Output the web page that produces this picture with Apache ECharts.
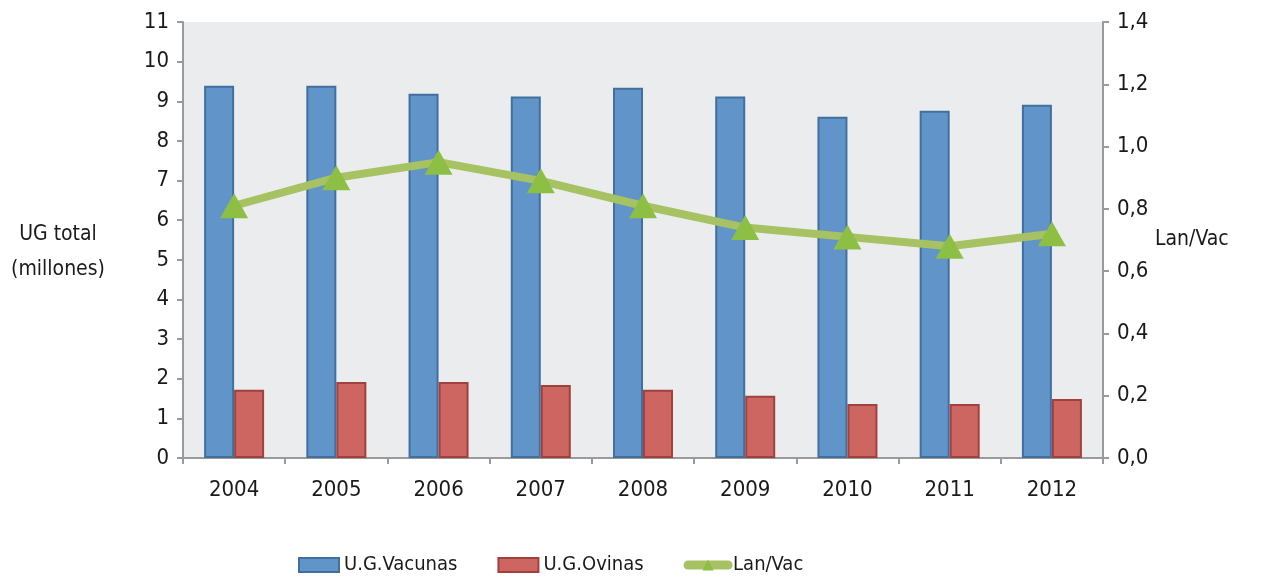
<!DOCTYPE html>
<html>
<head>
<meta charset="utf-8">
<script src="https://cdn.jsdelivr.net/npm/echarts@6/dist/echarts.min.js"></script>
<style>
  html, body { margin: 0; padding: 0; background: #fff; }
  #chart { width: 1270px; height: 577px; }
</style>
</head>
<body>
<div id="chart"></div>
<script>
// datos
var years = ['2004', '2005', '2006', '2007', '2008', '2009', '2010', '2011', '2012'];
var vacunas = [9.39, 9.39, 9.19, 9.12, 9.34, 9.12, 8.61, 8.76, 8.91];
var ovinas = [1.72, 1.92, 1.92, 1.84, 1.72, 1.57, 1.36, 1.36, 1.49];
var lanVac = [0.81, 0.90, 0.95, 0.89, 0.81, 0.74, 0.71, 0.68, 0.72];

var font = '"DejaVu Sans Condensed", "Liberation Sans Narrow", sans-serif';
var axisGray = '#9a9a9a';

var chart = echarts.init(document.getElementById('chart'));
chart.setOption({
  animation: false,
  textStyle: { fontFamily: font, color: '#1a1a1a' },
  grid: {
    left: 183, right: 167, top: 22, bottom: 119,
    show: true, backgroundColor: '#ebecee', borderWidth: 0
  },
  legend: {
    top: 550,
    left: 293,
    itemWidth: 40,
    itemHeight: 14,
    itemGap: 40,
    textStyle: { fontFamily: font, fontSize: 20, color: '#1a1a1a' },
    data: [
      { name: 'U.G.Vacunas', icon: 'rect' },
      { name: 'U.G.Ovinas', icon: 'rect' },
      { name: 'Lan/Vac', lineStyle: { width: 9, cap: 'round' } }
    ]
  },
  graphic: [
    {
      type: 'text', x: 58, y: 252,
      style: {
        text: 'UG total\n(millones)',
        align: 'center', verticalAlign: 'middle',
        fontFamily: font, fontSize: 21, lineHeight: 35, fill: '#1a1a1a'
      }
    }
  ],
  xAxis: {
    type: 'category',
    data: years,
    axisLine: { lineStyle: { color: axisGray, width: 2 } },
    axisTick: { show: true, length: 6, lineStyle: { color: axisGray, width: 2 } },
    axisLabel: { fontSize: 22, margin: 21, color: '#1a1a1a' }
  },
  yAxis: [
    {
      type: 'value', min: 0, max: 11, interval: 1,
      axisLine: { show: true, lineStyle: { color: axisGray, width: 2 } },
      axisTick: { show: true, length: 6, lineStyle: { color: axisGray, width: 2 } },
      axisLabel: { fontSize: 22, margin: 14, color: '#1a1a1a' },
      splitLine: { show: false }
    },
    {
      type: 'value', min: 0, max: 1.4, interval: 0.2,
      name: 'Lan/Vac', nameLocation: 'middle', nameRotate: 0, nameGap: 52,
      nameTextStyle: { fontSize: 21, color: '#1a1a1a', align: 'left', padding: [0, 0, 22, 0] },
      axisLine: { show: true, lineStyle: { color: axisGray, width: 2 } },
      axisTick: { show: true, length: 6, lineStyle: { color: axisGray, width: 2 } },
      axisLabel: {
        fontSize: 22, margin: 14, color: '#1a1a1a',
        formatter: function (v) { return v.toFixed(1).replace('.', ','); }
      },
      splitLine: { show: false }
    }
  ],
  series: [
    {
      name: 'U.G.Vacunas', type: 'bar', data: vacunas,
      barWidth: 30, barGap: '0%',
      itemStyle: { color: '#6194c9', borderColor: '#41709f', borderWidth: 2 }
    },
    {
      name: 'U.G.Ovinas', type: 'bar', data: ovinas,
      barWidth: 30,
      itemStyle: { color: '#cd6660', borderColor: '#a0413d', borderWidth: 2 }
    },
    {
      name: 'Lan/Vac', type: 'line', yAxisIndex: 1, data: lanVac,
      symbol: 'triangle', symbolSize: [28, 25],
      lineStyle: { color: '#a6c262', width: 8 },
      itemStyle: { color: '#8dbf45' }
    }
  ]
});
</script>
</body>
</html>
